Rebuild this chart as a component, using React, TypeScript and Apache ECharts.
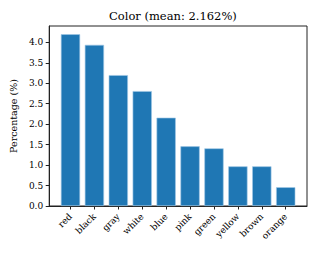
import React, { useEffect, useRef } from "react";
import * as echarts from "echarts";

const categories = ["red", "black", "gray", "white", "blue", "pink", "green", "yellow", "brown", "orange"];
const values = [4.2, 3.94, 3.2, 2.81, 2.16, 1.46, 1.41, 0.97, 0.97, 0.46];
const yTicks = [0, 0.5, 1, 1.5, 2, 2.5, 3, 3.5, 4];
const titleText = "Color (mean: 2.162%)";
const yName = "Percentage (%)";

export default function App() {
  const ref = useRef<HTMLDivElement>(null);
  useEffect(() => {
    if (!ref.current) return;
    const chart = echarts.init(ref.current, undefined, { renderer: "svg" });
    const idx = categories.map((_, i) => i);
    const font = "DejaVu Serif";
    chart.setOption({
      animation: false,
      textStyle: { fontFamily: font },
      title: {
        text: titleText,
        left: 109,
        top: 10,
        padding: 0,
        textStyle: { fontFamily: font, fontSize: 11.5, fontWeight: "normal", color: "#000" },
      },
      grid: {
        left: 48,
        right: 12,
        top: 26,
        bottom: 49,
        show: true,
        borderColor: "#222",
        borderWidth: 1,
        containLabel: false,
      },
      xAxis: {
        type: "value",
        min: -0.89,
        max: 9.89,
        splitLine: { show: false },
        axisLine: { show: true, onZero: false, lineStyle: { color: "#222", width: 1 } },
        axisTick: { show: true, customValues: idx, length: 3.5, lineStyle: { color: "#222" } },
        axisLabel: {
          customValues: idx,
          rotate: 45,
          margin: 9,
          fontSize: 9,
          color: "#000",
          fontFamily: font,
          formatter: (v: number) => categories[Math.round(v)] ?? "",
        },
      },
      yAxis: {
        type: "value",
        min: 0,
        max: 4.4,
        name: yName,
        nameLocation: "middle",
        nameGap: 28,
        nameTextStyle: { fontSize: 9.5, color: "#000", fontFamily: font },
        splitLine: { show: false },
        axisLine: { show: true, onZero: false, lineStyle: { color: "#222", width: 1 } },
        axisTick: { show: true, customValues: yTicks, length: 3.5, lineStyle: { color: "#222" } },
        axisLabel: {
          customValues: yTicks,
          fontSize: 9,
          margin: 6,
          color: "#000",
          fontFamily: font,
          formatter: (v: number) => v.toFixed(1),
        },
      },
      series: [
        {
          type: "bar",
          data: values.map((v, i) => [i, v]),
          barWidth: 19.3,
          itemStyle: { color: "#1f77b4", borderColor: "rgba(160,200,230,0.9)", borderWidth: 0.7 },
        },
      ],
    });
    return () => chart.dispose();
  }, []);
  return <div ref={ref} style={{ width: 319, height: 255, margin: -8 }} />;
}
